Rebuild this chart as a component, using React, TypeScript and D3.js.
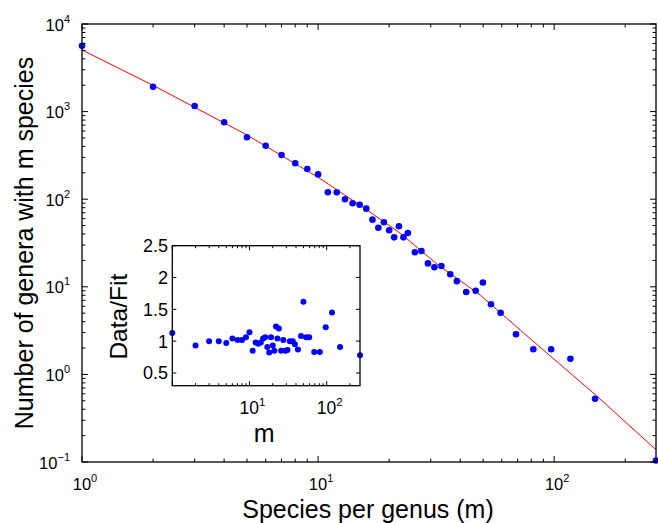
import React from "react";
import * as d3 from "d3";

// Species per genus (m)
const speciesPerGenus = [
  1, 2, 3, 4, 5, 6, 7, 8, 9, 10, 11, 12, 13, 14, 15, 16, 17, 18, 19, 20, 21, 22, 23, 24,
  25.7, 27.4, 29.2, 31.1, 33.3, 36.3, 38.7, 42.4, 46.5, 49.9, 54, 59.3, 68.9, 81.6, 97.1, 117.2, 149, 270,
];
// Number of genera with m species
const generaCount = [
  5650, 1925, 1160, 755, 509, 408, 320, 257, 221, 192, 120, 120, 100, 90, 86.5, 78, 58.4, 47.3, 54.5, 44.2,
  36.7, 49.1, 36.7, 41.1, 24.8, 25.6, 18.5, 16.7, 17.3, 13.9, 11.6, 8.73, 9.0, 11.2, 6.31, 5.06, 2.87, 1.94,
  1.94, 1.51, 0.527, 0.104,
];
// Fit curve
const fitM = [1, 2, 5, 10, 15.6, 22.3, 32.3, 48.6, 71.8, 149, 270];
const fitN = [5050, 1995, 540, 178, 80, 40.8, 17.7, 8.06, 3.21, 0.59, 0.138];
// Inset: Data / Fit
const dataOverFit = [
  1.13, 0.93, 1.0, 1.0, 0.97, 1.04, 1.02, 1.02, 1.06, 1.14, 0.85, 0.98, 0.96, 0.98, 1.04, 1.06, 0.91, 0.82,
  1.06, 0.93, 0.85, 1.23, 1.04, 1.2, 0.85, 1.02, 0.85, 0.86, 1.0, 1.0, 0.95, 0.87, 1.08, 1.62, 1.06, 1.06,
  0.83, 0.83, 1.22, 1.45, 0.91, 0.78,
];
const mainXTicks = [1, 10, 100];
const mainYTicks = [0.1, 1, 10, 100, 1000, 10000];
const insetXTicks = [10, 100];
const insetYTicks = [0.5, 1, 1.5, 2, 2.5];

const FONT = "'Liberation Sans', Arial, Helvetica, sans-serif";

function minorLogTicks(lo: number, hi: number) {
  const out: { v: number; major: boolean }[] = [];
  for (let e = Math.floor(Math.log10(lo)); e <= Math.ceil(Math.log10(hi)); e++) {
    for (let k = 1; k <= 9; k++) {
      const v = k * Math.pow(10, e);
      if (v >= lo * 0.999 && v <= hi * 1.001) out.push({ v, major: k === 1 });
    }
  }
  return out;
}

function Pow10({ x, y, exp, anchor, size, supSize }: any) {
  return (
    <text x={x} y={y} textAnchor={anchor} fontFamily={FONT} fontSize={size} fill="#000">
      <tspan>10</tspan>
      <tspan dy={-8} fontSize={supSize}>{exp}</tspan>
    </text>
  );
}

export default function App() {
  const W = 658, H = 523;
  const L = 82, R = 656, T = 24, B = 462;
  const x = d3.scaleLog().domain([1, 270]).range([L, R]);
  const y = d3.scaleLog().domain([0.1, 10000]).range([B, T]);

  const iL = 172.3, iR = 360, iT = 245.7, iB = 385.7;
  const ix = d3.scaleLog().domain([1, 270]).range([iL, iR]);
  const iy = d3.scaleLinear().domain([0.3, 2.5]).range([iB, iT]);

  const line = d3
    .line<number>()
    .x((_, i) => x(fitM[i]))
    .y((d) => y(d));

  const xt = minorLogTicks(1, 270);
  const yt = minorLogTicks(0.1, 10000);
  const ixt = minorLogTicks(1, 270);

  const expLabel = (t: number) => {
    const e = Math.round(Math.log10(t));
    return e < 0 ? "\u2212" + Math.abs(e) : String(e);
  };

  return (
    <svg width={W} height={H} style={{ position: "absolute", left: 0, top: 0, background: "#fff" }}>
      <rect x={0} y={0} width={W} height={H} fill="#fff" />
      {/* main fit line */}
      <path d={line(fitN) || ""} fill="none" stroke="#ff0000" strokeWidth={1} />
      {/* main points */}
      {speciesPerGenus.map((m, i) => (
        <circle key={i} cx={x(m)} cy={y(generaCount[i])} r={3.3} fill="#0000ff" />
      ))}
      {/* main box + ticks */}
      <g stroke="#000" strokeWidth={1}>
        {xt.map((t, i) => {
          const len = t.major ? 6 : 3.5;
          const px = x(t.v);
          return (
            <g key={"xt" + i}>
              <line x1={px} x2={px} y1={B} y2={B - len} />
              <line x1={px} x2={px} y1={T} y2={T + len} />
            </g>
          );
        })}
        {yt.map((t, i) => {
          const len = t.major ? 6 : 3.5;
          const py = y(t.v);
          return (
            <g key={"yt" + i}>
              <line x1={L} x2={L + len} y1={py} y2={py} />
              <line x1={R} x2={R - len} y1={py} y2={py} />
            </g>
          );
        })}
        <rect x={L} y={T} width={R - L} height={B - T} fill="none" strokeWidth={1.3} />
      </g>
      {/* main tick labels */}
      {mainXTicks.map((t) => (
        <Pow10 key={"mx" + t} x={x(t) + 3} y={490} exp={expLabel(t)} anchor="middle" size={16.5} supSize={11} />
      ))}
      {mainYTicks.map((t) => (
        <Pow10 key={"my" + t} x={70} y={y(t) + 6.5} exp={expLabel(t)} anchor="end" size={16.5} supSize={11} />
      ))}
      {/* main axis labels */}
      <text x={(L + R) / 2 - 1} y={518} textAnchor="middle" fontFamily={FONT} fontSize={25} fill="#000">
        Species per genus (m)
      </text>
      <text
        transform={`translate(33,${(T + B) / 2}) rotate(-90)`}
        textAnchor="middle"
        fontFamily={FONT}
        fontSize={25}
        fill="#000"
      >
        Number of genera with m species
      </text>

      {/* inset */}
      <rect x={iL} y={iT} width={iR - iL} height={iB - iT} fill="#fff" />
      {speciesPerGenus.map((m, i) => (
        <circle key={"ip" + i} cx={ix(m)} cy={iy(dataOverFit[i])} r={3} fill="#0000ff" />
      ))}
      <g stroke="#000" strokeWidth={1}>
        {ixt.map((t, i) => {
          const len = t.major ? 4.5 : 2.5;
          const px = ix(t.v);
          return (
            <g key={"ixt" + i}>
              <line x1={px} x2={px} y1={iB} y2={iB - len} />
              <line x1={px} x2={px} y1={iT} y2={iT + len} />
            </g>
          );
        })}
        {insetYTicks.map((t) => (
          <g key={"iyt" + t}>
            <line x1={iL} x2={iL + 4} y1={iy(t)} y2={iy(t)} />
            <line x1={iR} x2={iR - 4} y1={iy(t)} y2={iy(t)} />
          </g>
        ))}
        <rect x={iL} y={iT} width={iR - iL} height={iB - iT} fill="none" strokeWidth={1.3} />
      </g>
      {insetYTicks.map((t) => (
        <text key={"iyl" + t} x={168} y={iy(t) + 6.5} textAnchor="end" fontFamily={FONT} fontSize={18} fill="#000">
          {t}
        </text>
      ))}
      {insetXTicks.map((t) => (
        <Pow10 key={"ixl" + t} x={ix(t) + 3} y={414} exp={expLabel(t)} anchor="middle" size={17.5} supSize={11.5} />
      ))}
      <text x={(iL + iR) / 2 - 2} y={442} textAnchor="middle" fontFamily={FONT} fontSize={25} fill="#000">
        m
      </text>
      <text
        transform={`translate(127,${(iT + iB) / 2 + 1}) rotate(-90)`}
        textAnchor="middle"
        fontFamily={FONT}
        fontSize={24.5}
        fill="#000"
      >
        Data/Fit
      </text>
    </svg>
  );
}
